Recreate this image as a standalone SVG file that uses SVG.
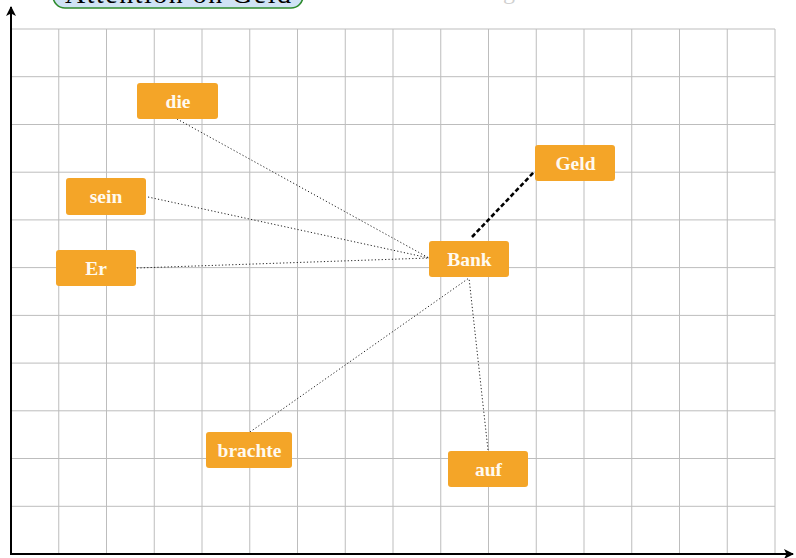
<svg xmlns="http://www.w3.org/2000/svg" width="796" height="558" viewBox="0 0 796 558">
<defs>
<style>
.grid line{stroke:#bdbdbd;stroke-width:1}
.node rect{fill:#f4a528;rx:3;ry:3}
.node text{fill:#fffaf0;font-family:"Liberation Serif","DejaVu Serif",serif;font-weight:bold;font-size:19.5px;text-anchor:middle}
.dot{stroke:#222;stroke-width:1;stroke-dasharray:1.2 2.2;fill:none}
.axis{stroke:#000;stroke-width:2;fill:none}
</style>
<marker id="ah" viewBox="0 0 10 10" refX="9" refY="5" markerWidth="5" markerHeight="5" orient="auto">
<path d="M0,0 L10,5 L0,10 L2.5,5 z" fill="#000"/>
</marker>
</defs>
<rect width="796" height="558" fill="#fff"/>
<g class="grid">
<line x1="58.75" y1="29" x2="58.75" y2="554"/><line x1="106.5" y1="29" x2="106.5" y2="554"/>
<line x1="154.25" y1="29" x2="154.25" y2="554"/><line x1="202" y1="29" x2="202" y2="554"/>
<line x1="249.75" y1="29" x2="249.75" y2="554"/><line x1="297.5" y1="29" x2="297.5" y2="554"/>
<line x1="345.25" y1="29" x2="345.25" y2="554"/><line x1="393" y1="29" x2="393" y2="554"/>
<line x1="440.75" y1="29" x2="440.75" y2="554"/><line x1="488.5" y1="29" x2="488.5" y2="554"/>
<line x1="536.25" y1="29" x2="536.25" y2="554"/><line x1="584" y1="29" x2="584" y2="554"/>
<line x1="631.75" y1="29" x2="631.75" y2="554"/><line x1="679.5" y1="29" x2="679.5" y2="554"/>
<line x1="727.25" y1="29" x2="727.25" y2="554"/><line x1="775" y1="29" x2="775" y2="554"/>
<line x1="11" y1="29" x2="775" y2="29"/><line x1="11" y1="76.7" x2="775" y2="76.7"/>
<line x1="11" y1="124.5" x2="775" y2="124.5"/><line x1="11" y1="172.2" x2="775" y2="172.2"/>
<line x1="11" y1="219.9" x2="775" y2="219.9"/><line x1="11" y1="267.6" x2="775" y2="267.6"/>
<line x1="11" y1="315.4" x2="775" y2="315.4"/><line x1="11" y1="363.1" x2="775" y2="363.1"/>
<line x1="11" y1="410.8" x2="775" y2="410.8"/><line x1="11" y1="458.5" x2="775" y2="458.5"/>
<line x1="11" y1="506.3" x2="775" y2="506.3"/>
</g>
<g id="axes">
<line class="axis" x1="11" y1="555" x2="11" y2="7" marker-end="url(#ah)"/>
<line class="axis" x1="10" y1="554" x2="793" y2="554" marker-end="url(#ah)"/>
</g>
<g id="title">
<rect x="53" y="-30" width="250" height="38" rx="12" fill="#d0e3f5" stroke="#2e8b2e" stroke-width="1.6"/>
<text x="178" y="3" font-family="Liberation Serif, DejaVu Serif, serif" font-size="28" text-anchor="middle" textLength="226" fill="#000">Attention on Geld</text>
<text x="512" y="-1" font-family="Liberation Serif, DejaVu Serif, serif" font-size="24" text-anchor="middle" fill="#d0d0d0">Attention weights from Bank</text>
</g>
<g id="connectors">
<line class="dot" x1="177" y1="119" x2="429" y2="258"/>
<line class="dot" x1="148" y1="197" x2="429" y2="258"/>
<line class="dot" x1="137" y1="268" x2="429" y2="258"/>
<line class="dot" x1="250" y1="432" x2="469" y2="278"/>
<line class="dot" x1="488" y1="450" x2="469" y2="278"/>
<line x1="472" y1="237" x2="534" y2="172" stroke="#000" stroke-width="2.6" stroke-dasharray="4.5 2.5"/>
</g>
<g id="node-die" class="node"><rect x="137" y="83" width="81" height="36"/><text x="178" y="107.5">die</text></g>
<g id="node-Geld" class="node"><rect x="535" y="145" width="80" height="36"/><text x="575.5" y="169.5">Geld</text></g>
<g id="node-sein" class="node"><rect x="66" y="178" width="80" height="37"/><text x="106" y="203">sein</text></g>
<g id="node-Er" class="node"><rect x="56" y="250" width="80" height="36"/><text x="96" y="274.5">Er</text></g>
<g id="node-Bank" class="node"><rect x="429" y="241" width="80" height="36"/><text x="469.5" y="265.5">Bank</text></g>
<g id="node-brachte" class="node"><rect x="206" y="432" width="86" height="36"/><text x="249.5" y="456.5">brachte</text></g>
<g id="node-auf" class="node"><rect x="448" y="451" width="80" height="36"/><text x="488.5" y="475.5">auf</text></g>
</svg>
